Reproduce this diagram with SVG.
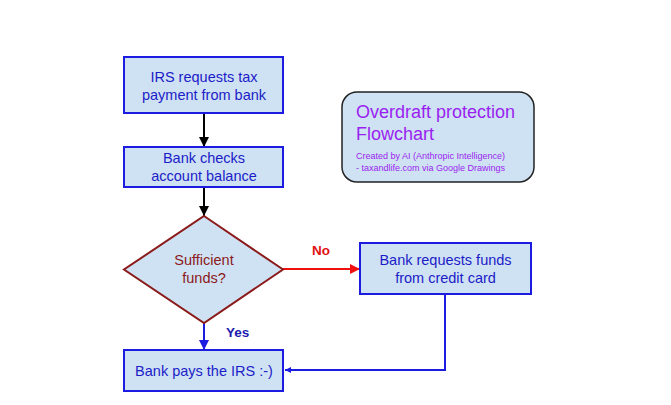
<svg xmlns="http://www.w3.org/2000/svg" width="671" height="405" viewBox="0 0 671 405">
<style>
.box{fill:#cfe2f3;stroke:#1c1ce0;stroke-width:2}
.bt{font-family:"Liberation Sans",Arial,sans-serif;font-size:14.5px;fill:#1c1cc8;text-anchor:middle}
.dt{font-family:"Liberation Sans",Arial,sans-serif;font-size:14.5px;fill:#8b1a1a;text-anchor:middle}
.lbl{font-family:"Liberation Sans",Arial,sans-serif;font-size:13.5px;font-weight:bold}
.tt{font-family:"Liberation Sans",Arial,sans-serif;fill:#9a1ef0}
</style>
<defs>
<marker id="ab" viewBox="0 0 10 10" refX="10" refY="5" markerWidth="5.5" markerHeight="5" markerUnits="strokeWidth" orient="auto"><path d="M0,0L10,5L0,10z" fill="#000"/></marker>
<marker id="ar" viewBox="0 0 10 10" refX="10" refY="5" markerWidth="5.5" markerHeight="5" markerUnits="strokeWidth" orient="auto"><path d="M0,0L10,5L0,10z" fill="#f01010"/></marker>
<marker id="au" viewBox="0 0 10 10" refX="10" refY="5" markerWidth="5.5" markerHeight="5" markerUnits="strokeWidth" orient="auto"><path d="M0,0L10,5L0,10z" fill="#1c1ce0"/></marker>
<marker id="aus" viewBox="0 0 10 10" refX="10" refY="5" markerWidth="3" markerHeight="3" markerUnits="strokeWidth" orient="auto"><path d="M0,0L10,5L0,10z" fill="#1c1ce0"/></marker>
</defs>
<rect width="671" height="405" fill="#fff"/>
<g id="connectors" fill="none">
<line x1="204" y1="113" x2="204" y2="147" stroke="#000" stroke-width="2" marker-end="url(#ab)"/>
<line x1="204" y1="187" x2="204" y2="216" stroke="#000" stroke-width="2" marker-end="url(#ab)"/>
<line x1="283" y1="269" x2="360" y2="269" stroke="#f01010" stroke-width="2" marker-end="url(#ar)"/>
<line x1="204" y1="323" x2="204" y2="350" stroke="#1c1ce0" stroke-width="2" marker-end="url(#au)"/>
<polyline points="445,294 445,370 285,370" stroke="#1c1ce0" stroke-width="2" marker-end="url(#aus)"/>
<text class="lbl" x="312" y="255" fill="#e01010">No</text>
<text class="lbl" x="226" y="337" fill="#1c1cb0">Yes</text>
</g>
<g id="irs">
<rect class="box" x="124" y="57" width="159" height="56"/>
<text class="bt" x="204" y="82">IRS requests tax</text>
<text class="bt" x="204" y="100">payment from bank</text>
</g>
<g id="check">
<rect class="box" x="124" y="147" width="159" height="40"/>
<text class="bt" x="204" y="163">Bank checks</text>
<text class="bt" x="204" y="181">account balance</text>
</g>
<g id="decision">
<polygon points="204,216 283,269.5 204,323 124,269.5" fill="#cfe2f3" stroke="#8b1a1a" stroke-width="2"/>
<text class="dt" x="204" y="265">Sufficient</text>
<text class="dt" x="204" y="283">funds?</text>
</g>
<g id="credit">
<rect class="box" x="360" y="243" width="171" height="51"/>
<text class="bt" x="445.5" y="265">Bank requests funds</text>
<text class="bt" x="445.5" y="283">from credit card</text>
</g>
<g id="pay">
<rect class="box" x="124" y="350" width="159" height="41"/>
<text class="bt" x="204" y="376">Bank pays the IRS :-)</text>
</g>
<g id="title">
<rect x="342" y="92" width="192" height="90" rx="15" ry="15" fill="#cfe2f3" stroke="#222" stroke-width="1.5"/>
<text class="tt" x="356" y="118" font-size="18">Overdraft protection</text>
<text class="tt" x="356" y="140" font-size="18">Flowchart</text>
<text class="tt" x="356" y="159" font-size="9">Created by AI (Anthropic Intelligence)</text>
<text class="tt" x="356" y="171" font-size="9">- taxandlife.com via Google Drawings</text>
</g>
</svg>
